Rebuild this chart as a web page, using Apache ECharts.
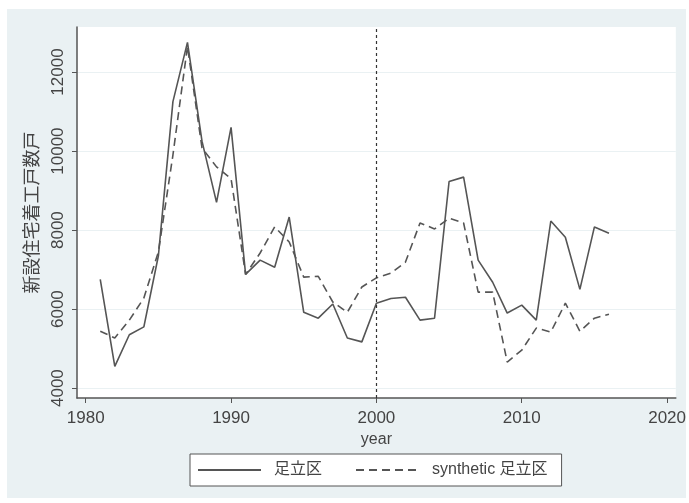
<!DOCTYPE html>
<html>
<head>
<meta charset="utf-8">
<script src="https://cdn.jsdelivr.net/npm/echarts@6/dist/echarts.min.js"></script>
<style>
  html, body { margin: 0; padding: 0; background: #fff; }
  #chart { width: 689px; height: 503px; }
</style>
</head>
<body>
<div id="chart"></div>
<script>
// 数据
const years = [1981, 1982, 1983, 1984, 1985, 1986, 1987, 1988, 1989, 1990,
  1991, 1992, 1993, 1994, 1995, 1996, 1997, 1998, 1999, 2000,
  2001, 2002, 2003, 2004, 2005, 2006, 2007, 2008, 2009, 2010,
  2011, 2012, 2013, 2014, 2015, 2016];
const adachi = [6750, 4550, 5350, 5550, 7350, 11250, 12750, 10250, 8700, 10600,
  6880, 7240, 7060, 8330, 5920, 5770, 6130, 5270, 5170, 6150,
  6270, 6300, 5720, 5770, 9230, 9340, 7240, 6680, 5900, 6100,
  5720, 8230, 7820, 6500, 8080, 7920];
const synthetic = [5440, 5270, 5720, 6280, 7450, 9900, 12650, 10080, 9600, 9300,
  6880, 7420, 8080, 7700, 6810, 6830, 6180, 5920, 6560, 6790,
  6910, 7190, 8180, 8030, 8300, 8180, 6430, 6430, 4660, 4960,
  5520, 5420, 6150, 5440, 5770, 5870];
const xTicks = [1980, 1990, 2000, 2010, 2020];
const yTicks = [4000, 6000, 8000, 10000, 12000];
const treatYear = 2000;

const font = '"Liberation Sans", Arial, "Noto Sans CJK JP", sans-serif';
const chart = echarts.init(document.getElementById('chart'));

const option = {
  animation: false,
  textStyle: { fontFamily: font },
  graphic: [{
    type: 'rect',
    z: -10,
    shape: { x: 7, y: 9, width: 679, height: 489 },
    style: { fill: '#eaf1f3' }
  }],
  grid: {
    left: 77, top: 27, right: 12, bottom: 105,
    show: true, backgroundColor: '#fff', borderWidth: 0
  },
  xAxis: {
    type: 'value',
    min: 1979.4, max: 2020.6,
    name: 'year', nameLocation: 'middle', nameGap: 32,
    nameTextStyle: { fontSize: 16, color: '#444', fontFamily: font },
    axisLine: { show: true, lineStyle: { color: '#555', width: 1.5 } },
    axisTick: { show: true, length: 5, customValues: xTicks, lineStyle: { color: '#555' } },
    axisLabel: {
      customValues: xTicks, fontSize: 17, color: '#444', margin: 12, fontFamily: font,
      formatter: v => String(v)
    },
    splitLine: { show: false }
  },
  yAxis: {
    type: 'value',
    min: 3750, max: 13140,
    name: '新設住宅着工戸数戸', nameLocation: 'middle', nameGap: 34,
    nameTextStyle: { fontSize: 18, color: '#444', fontFamily: font },
    axisLine: { show: true, lineStyle: { color: '#555', width: 1.5 } },
    axisTick: { show: true, length: 5, customValues: yTicks, lineStyle: { color: '#555' } },
    axisLabel: {
      customValues: yTicks, rotate: 90, fontSize: 17, color: '#444', margin: 10, fontFamily: font,
      formatter: v => String(v)
    },
    splitLine: { show: true, lineStyle: { color: '#eaf1f3', width: 1 } }
  },
  legend: {
    left: 190, top: 454,
    padding: [8, 14, 8, 7],
    itemGap: 33,
    itemWidth: 63, itemHeight: 10,
    backgroundColor: '#fff',
    borderColor: '#555', borderWidth: 1,
    itemStyle: { opacity: 0 },
    textStyle: { fontSize: 16, color: '#444', padding: [0, 0, 0, 8], fontFamily: font },
    data: ['足立区', 'synthetic 足立区']
  },
  series: [
    {
      name: '足立区',
      type: 'line',
      data: years.map((y, i) => [y, adachi[i]]),
      symbol: 'none',
      lineStyle: { color: '#555', width: 1.6, type: 'solid' },
      itemStyle: { color: '#555' },
      markLine: {
        silent: true, symbol: 'none',
        label: { show: false },
        lineStyle: { color: '#333', width: 1.2, type: [3, 3] },
        data: [{ xAxis: treatYear }]
      }
    },
    {
      name: 'synthetic 足立区',
      type: 'line',
      data: years.map((y, i) => [y, synthetic[i]]),
      symbol: 'none',
      lineStyle: { color: '#555', width: 1.6, type: [8, 5] },
      itemStyle: { color: '#555' }
    }
  ]
};
chart.setOption(option);
</script>
</body>
</html>
